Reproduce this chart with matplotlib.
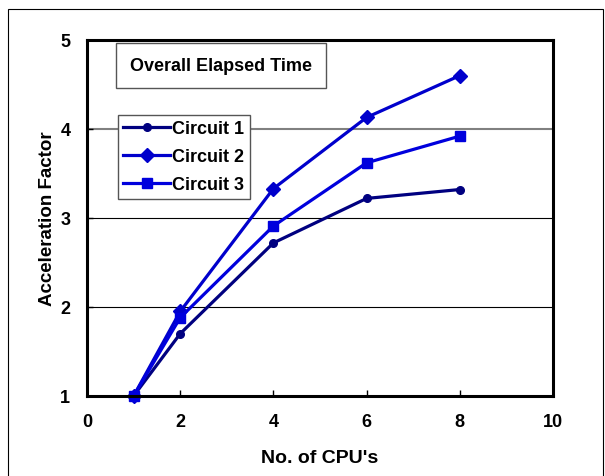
import matplotlib
matplotlib.use("Agg")
import matplotlib.pyplot as plt
from matplotlib.patches import Rectangle

cpus = [1, 2, 4, 6, 8]
circuit1 = [1.0, 1.70, 2.72, 3.22, 3.32]
circuit2 = [1.0, 1.95, 3.33, 4.13, 4.60]
circuit3 = [1.0, 1.88, 2.91, 3.62, 3.92]
series_names = ["Circuit 1", "Circuit 2", "Circuit 3"]
xticks = [0, 2, 4, 6, 8, 10]
yticks = [1, 2, 3, 4, 5]

plt.rcParams['font.family'] = ['Liberation Sans', 'DejaVu Sans']
plt.rcParams['font.weight'] = 'bold'

fig = plt.figure(figsize=(6.05, 4.77), dpi=100)
# outer border
fig.patches.append(Rectangle((8/605, -0.01), (603-8)/605, 1 - 10/477 + 0.01,
                             transform=fig.transFigure, fill=False,
                             edgecolor='black', linewidth=0.8))

ax = fig.add_axes([87/605, 80/477, (553-87)/605, (397-41)/477])
ax.set_xlim(0, 10)
ax.set_ylim(1, 5)
ax.set_xticks(xticks)
ax.set_yticks(yticks)
for g in [2, 3]:
    ax.axhline(g, color='black', linewidth=0.8, zorder=0.5)
ax.axhline(4, color='#808080', linewidth=1.5, zorder=0.5)
for s in ax.spines.values():
    s.set_linewidth(2.2)
ax.tick_params(axis='both', labelsize=13, width=1, length=4, direction='in')
ax.tick_params(axis='x', pad=12)
ax.tick_params(axis='y', pad=12)
for lab in ax.get_xticklabels() + ax.get_yticklabels():
    lab.set_fontweight('bold')

colors = ['#000080', '#0000CC', '#0000DD']
markers = ['o', 'D', 's']
msizes = [5.5, 7, 7]
for ys, name, c, m, ms in zip([circuit1, circuit2, circuit3], series_names, colors, markers, msizes):
    ax.plot(cpus, ys, color=c, marker=m, markersize=ms, linewidth=2.3, label=name, clip_on=False)

ax.set_xlabel("No. of CPU's", fontsize=14, fontweight='bold', labelpad=14)
ax.set_ylabel("Acceleration Factor", fontsize=13.5, fontweight='bold', labelpad=3)

leg = ax.legend(loc='upper left', bbox_to_anchor=((118-87)/466, 1 - (116-41)/356),
                frameon=True, fancybox=False, edgecolor='#555555', framealpha=1,
                fontsize=13, handlelength=2.6, borderpad=0.3, labelspacing=0.6,
                handletextpad=0.1, borderaxespad=0)
leg.get_frame().set_linewidth(1.0)
for t in leg.get_texts():
    t.set_fontweight('bold')

ax.text(((116+326)/2-87)/466, 1 - ((44+89)/2-41)/356, "Overall Elapsed Time",
        transform=ax.transAxes, ha='center', va='center', fontsize=13, fontweight='bold',
        bbox=dict(boxstyle='square,pad=0.8', facecolor='white', edgecolor='#555555', linewidth=1.0))

fig.savefig("out.png", dpi=100)
